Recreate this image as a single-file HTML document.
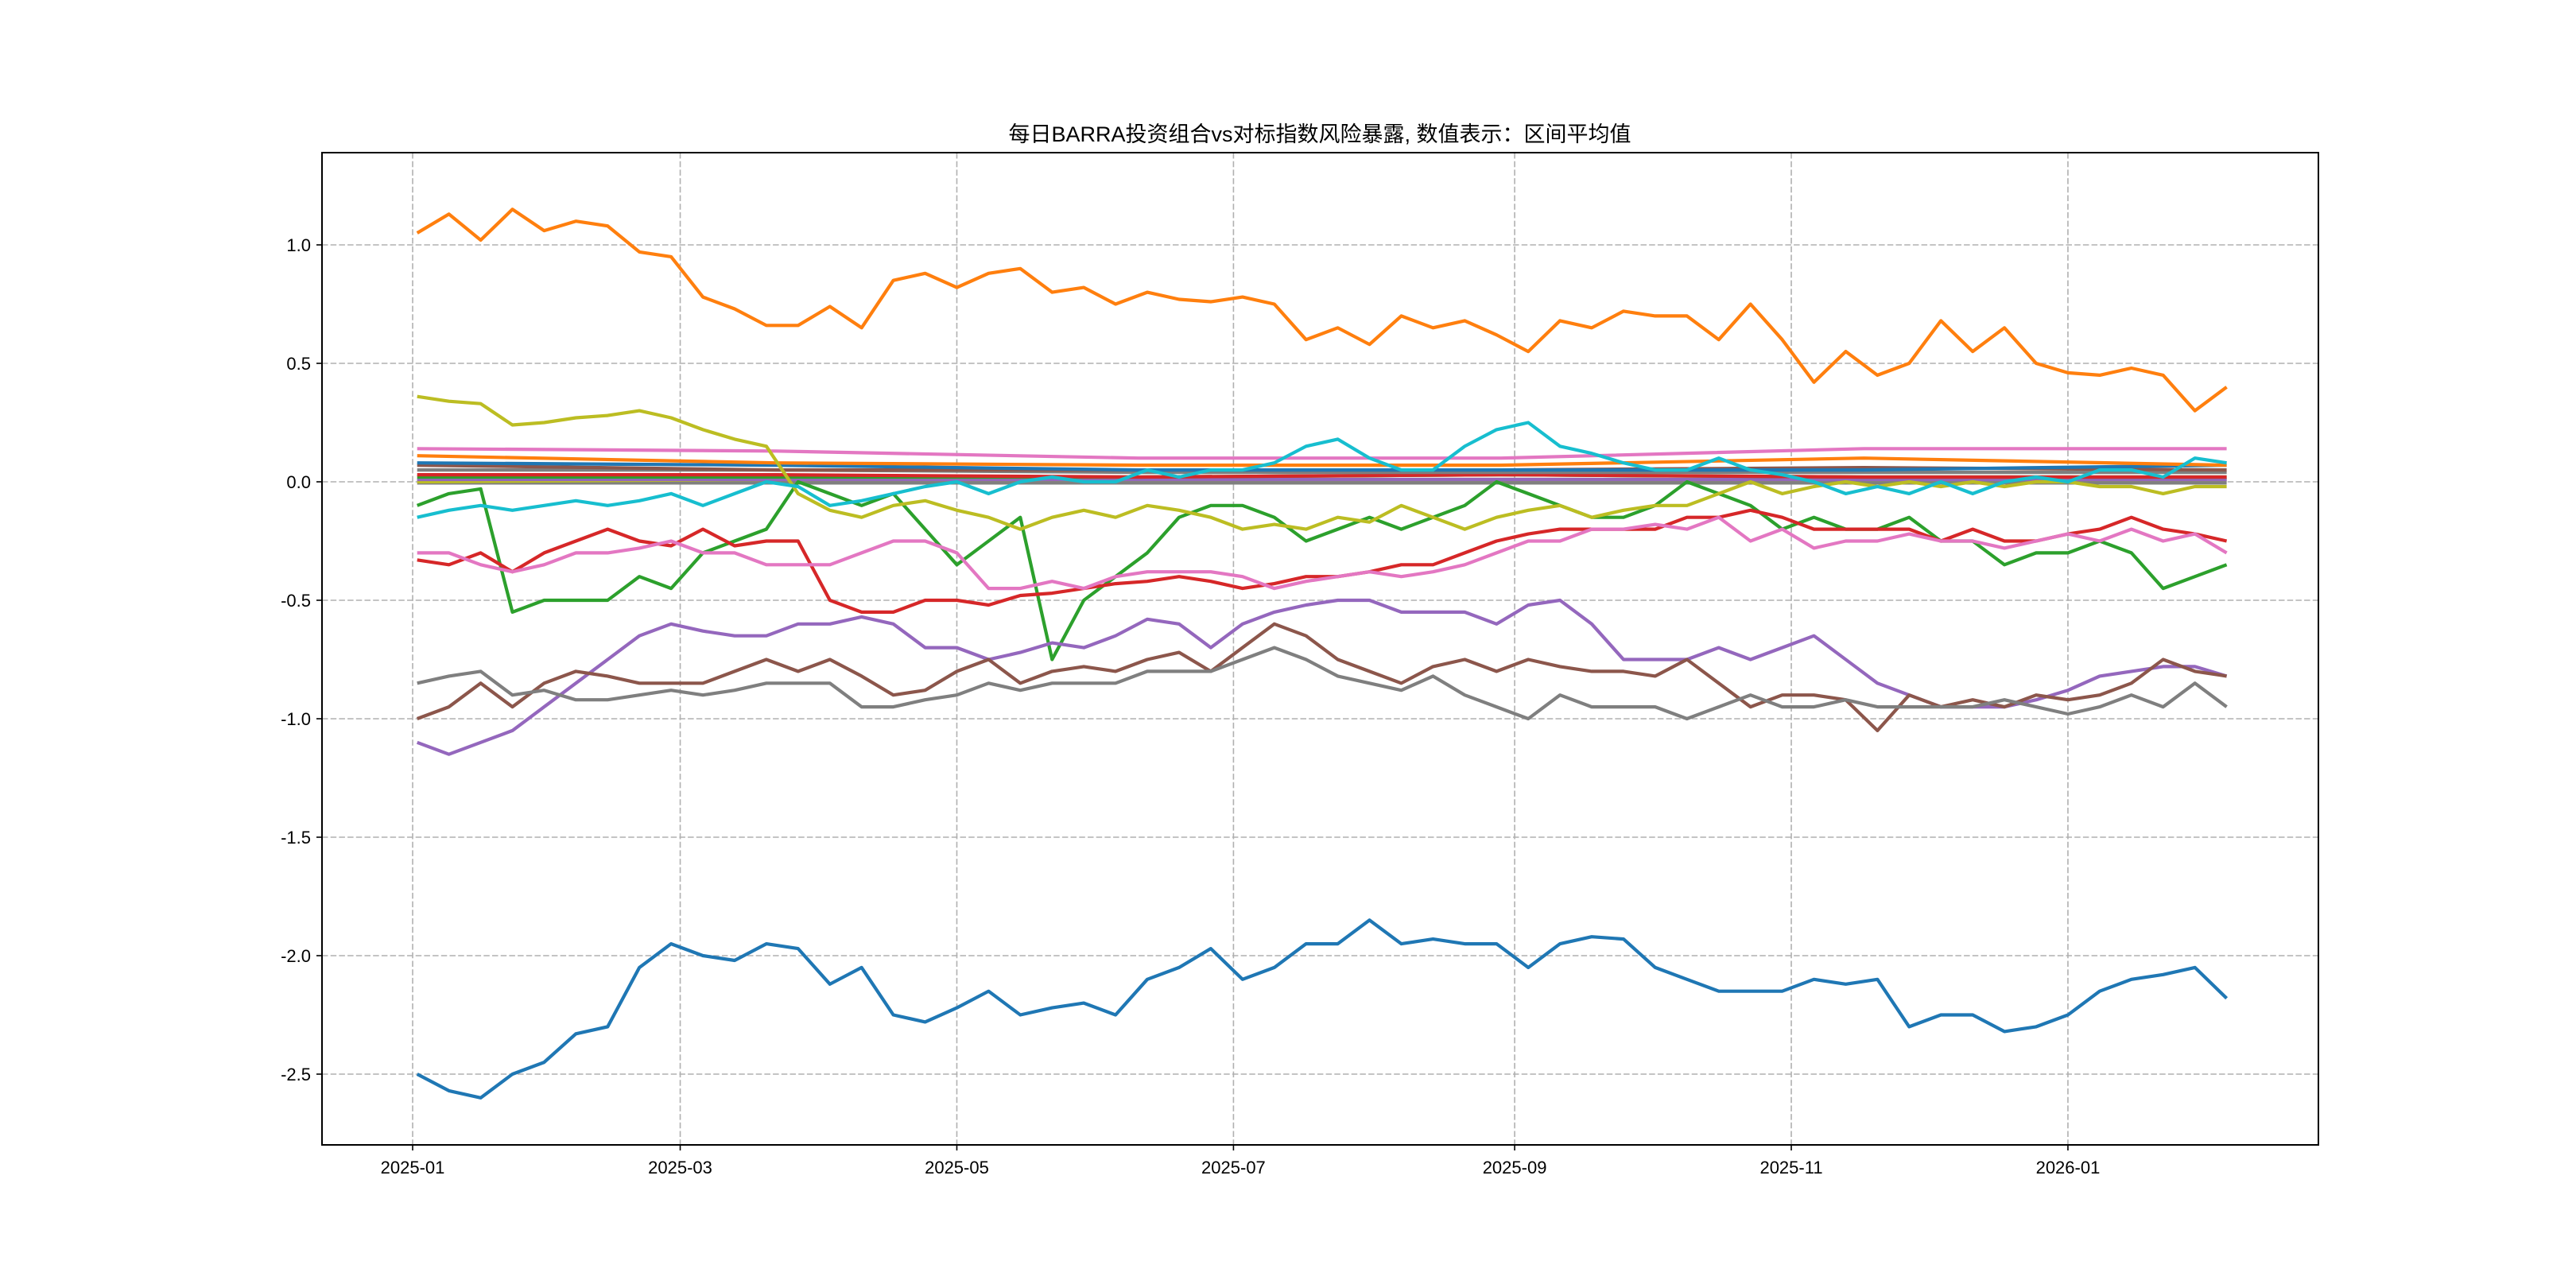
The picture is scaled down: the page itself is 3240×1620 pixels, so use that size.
<!DOCTYPE html>
<html><head><meta charset="utf-8"><style>
html,body{margin:0;padding:0;background:#fff;}
svg{display:block;}
text{font-family:"Liberation Sans","Noto Sans CJK SC",sans-serif;fill:#000;}
</style></head><body>
<svg id="chart" width="3240" height="1620" viewBox="0 0 3240 1620" xmlns="http://www.w3.org/2000/svg">
<rect width="3240" height="1620" fill="#fff"/>
<text x="1660" y="178" text-anchor="middle" font-size="27">每日BARRA投资组合vs对标指数风险暴露, 数值表示：区间平均值</text>
<g id="grid"></g>
<g id="series"></g>
<g id="axes"></g>
</svg>
<script>
const days=[1,8,15,22,29,36,43,50,57,64,71,78,85,92,99,106,113,120,127,134,141,148,155,162,169,176,183,190,197,204,211,218,225,232,239,246,253,260,267,274,281,288,295,302,309,316,323,330,337,344,351,358,365,372,379,386,393,400];
const flatDays=[1,80,160,240,320,400];
const xTickLabels=["2025-01","2025-03","2025-05","2025-07","2025-09","2025-11","2026-01"];
const xTickDays=[0,59,120,181,243,304,365];
const yTicks=[-2.5,-2.0,-1.5,-1.0,-0.5,0.0,0.5,1.0];
const sBlue=[-2.5,-2.57,-2.6,-2.5,-2.45,-2.33,-2.3,-2.05,-1.95,-2.0,-2.02,-1.95,-1.97,-2.12,-2.05,-2.25,-2.28,-2.22,-2.15,-2.25,-2.22,-2.2,-2.25,-2.1,-2.05,-1.97,-2.1,-2.05,-1.95,-1.95,-1.85,-1.95,-1.93,-1.95,-1.95,-2.05,-1.95,-1.92,-1.93,-2.05,-2.1,-2.15,-2.15,-2.15,-2.1,-2.12,-2.1,-2.3,-2.25,-2.25,-2.32,-2.3,-2.25,-2.15,-2.1,-2.08,-2.05,-2.18];
const sOrange=[1.05,1.13,1.02,1.15,1.06,1.10,1.08,0.97,0.95,0.78,0.73,0.66,0.66,0.74,0.65,0.85,0.88,0.82,0.88,0.90,0.80,0.82,0.75,0.80,0.77,0.76,0.78,0.75,0.60,0.65,0.58,0.70,0.65,0.68,0.62,0.55,0.68,0.65,0.72,0.70,0.70,0.60,0.75,0.60,0.42,0.55,0.45,0.50,0.68,0.55,0.65,0.50,0.46,0.45,0.48,0.45,0.30,0.40];
const sOlive=[0.36,0.34,0.33,0.24,0.25,0.27,0.28,0.30,0.27,0.22,0.18,0.15,-0.05,-0.12,-0.15,-0.1,-0.08,-0.12,-0.15,-0.2,-0.15,-0.12,-0.15,-0.1,-0.12,-0.15,-0.2,-0.18,-0.2,-0.15,-0.17,-0.1,-0.15,-0.2,-0.15,-0.12,-0.1,-0.15,-0.12,-0.1,-0.1,-0.05,0.0,-0.05,-0.02,0.0,-0.02,0.0,-0.02,0.0,-0.02,0.0,0.0,-0.02,-0.02,-0.05,-0.02,-0.02];
const sCyan=[-0.15,-0.12,-0.1,-0.12,-0.1,-0.08,-0.1,-0.08,-0.05,-0.1,-0.05,0.0,-0.02,-0.1,-0.08,-0.05,-0.02,0.0,-0.05,0.0,0.02,0.0,0.0,0.05,0.02,0.05,0.05,0.08,0.15,0.18,0.1,0.05,0.05,0.15,0.22,0.25,0.15,0.12,0.08,0.05,0.05,0.1,0.05,0.03,0.0,-0.05,-0.02,-0.05,0.0,-0.05,0.0,0.02,0.0,0.05,0.05,0.02,0.1,0.08];
const sGreen=[-0.1,-0.05,-0.03,-0.55,-0.5,-0.5,-0.5,-0.4,-0.45,-0.3,-0.25,-0.2,0.0,-0.05,-0.1,-0.05,-0.2,-0.35,-0.25,-0.15,-0.75,-0.5,-0.4,-0.3,-0.15,-0.1,-0.1,-0.15,-0.25,-0.2,-0.15,-0.2,-0.15,-0.1,0.0,-0.05,-0.1,-0.15,-0.15,-0.1,0.0,-0.05,-0.1,-0.2,-0.15,-0.2,-0.2,-0.15,-0.25,-0.25,-0.35,-0.3,-0.3,-0.25,-0.3,-0.45,-0.4,-0.35];
const sRed=[-0.33,-0.35,-0.3,-0.38,-0.3,-0.25,-0.2,-0.25,-0.27,-0.2,-0.27,-0.25,-0.25,-0.5,-0.55,-0.55,-0.5,-0.5,-0.52,-0.48,-0.47,-0.45,-0.43,-0.42,-0.4,-0.42,-0.45,-0.43,-0.4,-0.4,-0.38,-0.35,-0.35,-0.3,-0.25,-0.22,-0.2,-0.2,-0.2,-0.2,-0.15,-0.15,-0.12,-0.15,-0.2,-0.2,-0.2,-0.2,-0.25,-0.2,-0.25,-0.25,-0.22,-0.2,-0.15,-0.2,-0.22,-0.25];
const sPink=[-0.3,-0.3,-0.35,-0.38,-0.35,-0.3,-0.3,-0.28,-0.25,-0.3,-0.3,-0.35,-0.35,-0.35,-0.3,-0.25,-0.25,-0.3,-0.45,-0.45,-0.42,-0.45,-0.4,-0.38,-0.38,-0.38,-0.4,-0.45,-0.42,-0.4,-0.38,-0.4,-0.38,-0.35,-0.3,-0.25,-0.25,-0.2,-0.2,-0.18,-0.2,-0.15,-0.25,-0.2,-0.28,-0.25,-0.25,-0.22,-0.25,-0.25,-0.28,-0.25,-0.22,-0.25,-0.2,-0.25,-0.22,-0.3];
const sPurple=[-1.1,-1.15,-1.1,-1.05,-0.95,-0.85,-0.75,-0.65,-0.6,-0.63,-0.65,-0.65,-0.6,-0.6,-0.57,-0.6,-0.7,-0.7,-0.75,-0.72,-0.68,-0.7,-0.65,-0.58,-0.6,-0.7,-0.6,-0.55,-0.52,-0.5,-0.5,-0.55,-0.55,-0.55,-0.6,-0.52,-0.5,-0.6,-0.75,-0.75,-0.75,-0.7,-0.75,-0.7,-0.65,-0.75,-0.85,-0.9,-0.95,-0.95,-0.95,-0.92,-0.88,-0.82,-0.8,-0.78,-0.78,-0.82];
const sBrown=[-1.0,-0.95,-0.85,-0.95,-0.85,-0.8,-0.82,-0.85,-0.85,-0.85,-0.8,-0.75,-0.8,-0.75,-0.82,-0.9,-0.88,-0.8,-0.75,-0.85,-0.8,-0.78,-0.8,-0.75,-0.72,-0.8,-0.7,-0.6,-0.65,-0.75,-0.8,-0.85,-0.78,-0.75,-0.8,-0.75,-0.78,-0.8,-0.8,-0.82,-0.75,-0.85,-0.95,-0.9,-0.9,-0.92,-1.05,-0.9,-0.95,-0.92,-0.95,-0.9,-0.92,-0.9,-0.85,-0.75,-0.8,-0.82];
const sGray=[-0.85,-0.82,-0.8,-0.9,-0.88,-0.92,-0.92,-0.9,-0.88,-0.9,-0.88,-0.85,-0.85,-0.85,-0.95,-0.95,-0.92,-0.9,-0.85,-0.88,-0.85,-0.85,-0.85,-0.8,-0.8,-0.8,-0.75,-0.7,-0.75,-0.82,-0.85,-0.88,-0.82,-0.9,-0.95,-1.0,-0.9,-0.95,-0.95,-0.95,-1.0,-0.95,-0.9,-0.95,-0.95,-0.92,-0.95,-0.95,-0.95,-0.95,-0.92,-0.95,-0.98,-0.95,-0.9,-0.95,-0.85,-0.95];
const nzPink=[0.14,0.13,0.10,0.10,0.14,0.14];
const nzOrange=[0.11,0.08,0.07,0.07,0.10,0.07];
const nzBlue=[0.08,0.07,0.05,0.05,0.05,0.07];
const nzBrown=[0.07,0.05,0.05,0.05,0.06,0.05];
const nzGray=[0.05,0.05,0.04,0.04,0.04,0.04];
const nzRed=[0.03,0.03,0.02,0.03,0.02,0.02];
const nzGreen=[0.02,0.02,0.02,0.03,0.02,0.02];
const nzPurple=[0.01,0.01,0.01,0.01,0.01,0.01];
const nzOlive=[0.0,0.01,0.01,0.01,0.01,0.01];
const nzGrayZero=[0,0,0,0,0,0];

const L=405,R=2916,T=192,B=1440;
const X0=519, PXD=5.704, Y0=606, PXU=298;
const xs=d=>X0+d*PXD;
const ys=v=>Y0-v*PXU;
const NS='http://www.w3.org/2000/svg';
function mk(tag,attrs,parent){const e=document.createElementNS(NS,tag);for(const k in attrs)e.setAttribute(k,attrs[k]);parent.appendChild(e);return e;}
const grid=document.getElementById('grid'),axes=document.getElementById('axes'),ser=document.getElementById('series');
xTickDays.forEach((d,i)=>{
  const x=xs(d);
  const g=mk('line',{x1:x,x2:x,y1:T,y2:B,stroke:'#b0b0b0','stroke-width':1.6,'stroke-dasharray':'7.5,3.2'},grid);
  
  
  const t=mk('line',{x1:x,x2:x,y1:B,y2:B+7,stroke:'#000','stroke-width':1.6},axes);
  
  
  const lb=mk('text',{x:x,y:B+36,'text-anchor':'middle','font-size':22},axes);
  lb.textContent=xTickLabels[i];
  
  
});
yTicks.forEach(v=>{
  const y=ys(v);
  const g=mk('line',{x1:L,x2:R,y1:y,y2:y,stroke:'#b0b0b0','stroke-width':1.6,'stroke-dasharray':'7.5,3.2'},grid);
  
  
  const t=mk('line',{x1:L-7,x2:L,y1:y,y2:y,stroke:'#000','stroke-width':1.6},axes);
  
  
  const lb=mk('text',{x:L-14,y:y+8,'text-anchor':'end','font-size':22},axes);
  lb.textContent=v.toFixed(1);
  
  
});
const frame=mk('rect',{x:L,y:T,width:R-L,height:B-T,fill:'none',stroke:'#000','stroke-width':2},axes);



function line(dd,vals,color,name,w){
  const pts=vals.map((v,i)=>xs(dd[i]).toFixed(1)+','+ys(v).toFixed(1)).join(' ');
  const p=mk('polyline',{points:pts,fill:'none',stroke:color,'stroke-width':w||4.2,'stroke-linejoin':'round'},ser);
  
  
}
line(flatDays,nzGrayZero,'#7f7f7f','series-gray-zero',7);
line(flatDays,nzOlive,'#bcbd22','series-olive-flat');
line(flatDays,nzPurple,'#9467bd','series-purple-flat');
line(flatDays,nzGreen,'#2ca02c','series-green-flat');
line(flatDays,nzRed,'#d62728','series-red-flat');
line(flatDays,nzGray,'#7f7f7f','series-gray-flat');
line(flatDays,nzBrown,'#8c564b','series-brown-flat');
line(flatDays,nzBlue,'#1f77b4','series-blue-flat');
line(flatDays,nzOrange,'#ff7f0e','series-orange-flat');
line(flatDays,nzPink,'#e377c2','series-pink-flat');
line(days,sBlue,'#1f77b4','series-blue');
line(days,sOrange,'#ff7f0e','series-orange');
line(days,sGreen,'#2ca02c','series-green');
line(days,sRed,'#d62728','series-red');
line(days,sPurple,'#9467bd','series-purple');
line(days,sBrown,'#8c564b','series-brown');
line(days,sPink,'#e377c2','series-pink');
line(days,sGray,'#7f7f7f','series-gray');
line(days,sOlive,'#bcbd22','series-olive');
line(days,sCyan,'#17becf','series-cyan');
</script>
</body></html>
